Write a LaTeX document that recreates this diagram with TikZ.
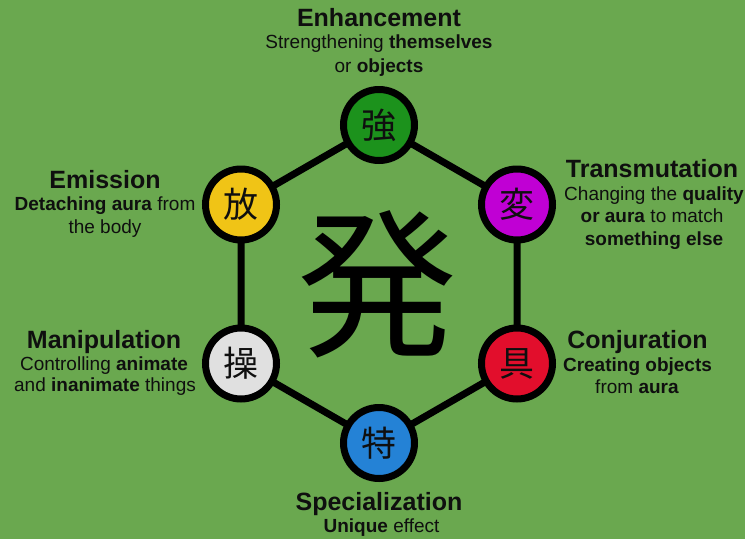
\documentclass[tikz,border=0pt]{standalone}
\usepackage{fontspec}
\setmainfont{Liberation Sans}
\newfontfamily\cjk{Noto Sans CJK JP}
\definecolor{bg}{RGB}{106,168,79}
\definecolor{cgreen}{RGB}{28,146,28}
\definecolor{cyellow}{RGB}{240,196,22}
\definecolor{cmagenta}{RGB}{192,0,212}
\definecolor{cred}{RGB}{226,14,44}
\definecolor{cblue}{RGB}{36,130,214}
\definecolor{cgray}{RGB}{224,224,224}
\definecolor{ink}{RGB}{15,15,15}
\begin{document}
\begin{tikzpicture}[x=1pt,y=-1pt,
  ring/.style={circle, draw=black, line width=7pt, minimum size=71pt, inner sep=0pt, text=ink, font=\cjk\fontsize{35}{35}\selectfont},
  hexedge/.style={line width=7pt, black},
  ttl/.style={anchor=base, text=ink, font=\bfseries\fontsize{25}{30}\selectfont},
  dsc/.style={anchor=base, text=ink, font=\fontsize{19}{23}\selectfont}]
\fill[bg] (0,0) rectangle (745,539);
\useasboundingbox (0,0) rectangle (745,539);

\coordinate (pT) at (379,125);
\coordinate (pUR) at (517,204.5);
\coordinate (pLR) at (517,363.5);
\coordinate (pB) at (379,443);
\coordinate (pLL) at (241,363.5);
\coordinate (pUL) at (241,204.5);

\draw[hexedge] (pT) -- (pUR) -- (pLR) -- (pB) -- (pLL) -- (pUL) -- cycle;

\node[ring, fill=cgreen] (enh) at (pT) {強};
\node[ring, fill=cmagenta] (tra) at (pUR) {変};
\node[ring, fill=cred] (con) at (pLR) {具};
\node[ring, fill=cblue] (spe) at (pB) {特};
\node[ring, fill=cgray] (man) at (pLL) {操};
\node[ring, fill=cyellow] (emi) at (pUL) {放};

\node[text=black, font=\cjk\fontsize{160}{160}\selectfont] (hatsu) at (377,284) {発};

% Enhancement
\node[ttl] (enhT) at (379,26) {Enhancement};
\node[dsc] (enhA) at (379,48.5) {Strengthening \textbf{themselves}};
\node[dsc] (enhB) at (379,72) {or \textbf{objects}};
% Emission
\node[ttl] (emiT) at (105,188) {Emission};
\node[dsc] (emiA) at (105,210.5) {\textbf{Detaching aura} from};
\node[dsc] (emiB) at (105,233) {the body};
% Transmutation
\node[ttl] (traT) at (652,177) {Transmutation};
\node[dsc] (traA) at (654,200) {Changing the \textbf{quality}};
\node[dsc] (traB) at (652,222.5) {\textbf{or aura} to match};
\node[dsc] (traC) at (654,245) {\textbf{something else}};
% Manipulation
\node[ttl] (manT) at (104,348) {Manipulation};
\node[dsc] (manA) at (104,370) {Controlling \textbf{animate}};
\node[dsc] (manB) at (105,391.5) {and \textbf{inanimate} things};
% Conjuration
\node[ttl] (conT) at (637.5,348) {Conjuration};
\node[dsc] (conA) at (637.5,371.5) {\textbf{Creating objects}};
\node[dsc] (conB) at (637,393) {from \textbf{aura}};
% Specialization
\node[ttl] (speT) at (379,510) {Specialization};
\node[dsc] (speA) at (381.5,532.5) {\textbf{Unique} effect};
\end{tikzpicture}
\end{document}
